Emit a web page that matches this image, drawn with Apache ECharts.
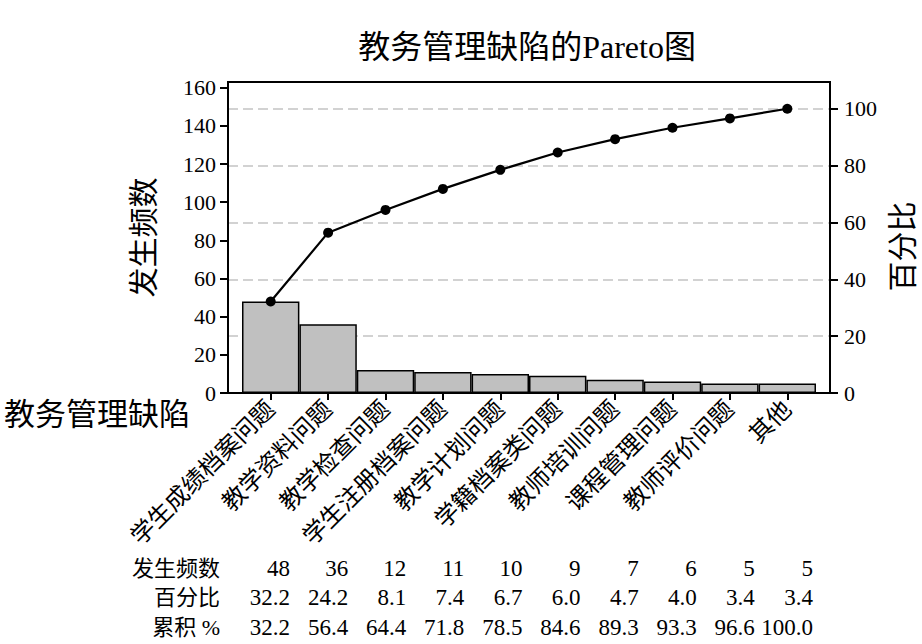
<!DOCTYPE html>
<html>
<head>
<meta charset="utf-8">
<script src="https://cdn.jsdelivr.net/npm/echarts@6/dist/echarts.min.js"></script>
<style>html,body{margin:0;padding:0;background:#fff}#c{width:922px;height:644px}</style>
</head>
<body>
<div id="c"></div>
<script>
const chartTitle = '教务管理缺陷的Pareto图';
const categoryTitle = '教务管理缺陷';
const categories = ['学生成绩档案问题','教学资料问题','教学检查问题','学生注册档案问题','教学计划问题','学籍档案类问题','教师培训问题','课程管理问题','教师评价问题','其他'];
const counts = [48, 36, 12, 11, 10, 9, 7, 6, 5, 5];
const percents = [32.2, 24.2, 8.1, 7.4, 6.7, 6.0, 4.7, 4.0, 3.4, 3.4];
const cumulative = [32.2, 56.4, 64.4, 71.8, 78.5, 84.6, 89.3, 93.3, 96.6, 100.0];
const rowNames = ['发生频数', '百分比', '累积 %'];
const countTicks = [0, 20, 40, 60, 80, 100, 120, 140, 160];
const pctTicks = [0, 20, 40, 60, 80, 100];
const countAxisMax = 163;
const totalCount = 149;

const pctAxisMax = countAxisMax / totalCount * 100;
const FONT = "'Liberation Serif','Noto Sans CJK SC',serif";
const black = '#000';

const chart = echarts.init(document.getElementById('c'), null, {renderer: 'svg'});

const rowData = [counts.map(String), percents.map(v => v.toFixed(1)), cumulative.map(v => v.toFixed(1))];
const axisBottomY = 393;
const rowOffsets = [175, 204, 234];

const tableAxes = rowData.map((d, i) => ({
  gridIndex: 2, type: 'category', data: d, position: 'bottom', offset: rowOffsets[i],
  axisLine: {show: false}, axisTick: {show: false}, splitLine: {show: false},
  axisLabel: {interval: 0, align: 'right', verticalAlign: 'middle', margin: 0,
    fontFamily: FONT, fontSize: 23, color: black}
}));

const rowNameGraphics = rowNames.map((t, i) => ({
  type: 'text', x: 220, y: axisBottomY + rowOffsets[i],
  style: {text: t, font: "22px " + FONT, fill: black,
    textAlign: 'right', textVerticalAlign: 'middle', align: 'right', verticalAlign: 'middle'}
}));

chart.setOption({
  animation: false,
  backgroundColor: '#fff',
  graphic: [
    {type: 'text', x: 527, y: 47, style: {text: chartTitle, font: "32px " + FONT, fill: black,
      textAlign: 'center', textVerticalAlign: 'middle', align: 'center', verticalAlign: 'middle'}},
    {type: 'text', x: 4, y: 414, style: {text: categoryTitle, font: "31px " + FONT, fill: black,
      textAlign: 'left', textVerticalAlign: 'middle', align: 'left', verticalAlign: 'middle'}},
    ...rowNameGraphics
  ],
  grid: [
    {left: 228, right: 92, top: 82, bottom: 251, show: true, borderColor: black, borderWidth: 2,
      backgroundColor: 'transparent', z: 5, containLabel: false, outerBoundsMode: 'none'},
    {left: 242, right: 106, top: 82, bottom: 251, containLabel: false, outerBoundsMode: 'none'},
    {left: 261, right: 80, top: 82, bottom: 251, containLabel: false, outerBoundsMode: 'none'}
  ],
  xAxis: [
    {gridIndex: 0, type: 'value', show: false},
    {gridIndex: 1, type: 'category', data: categories, position: 'bottom',
      axisLine: {show: true, lineStyle: {color: black, width: 2}},
      axisTick: {show: true, alignWithLabel: true, length: 7, lineStyle: {color: black, width: 2}},
      axisLabel: {interval: 0, rotate: 45, margin: 12, fontFamily: FONT, fontSize: 24, color: black},
      splitLine: {show: false}},
    ...tableAxes
  ],
  yAxis: [
    {gridIndex: 0, type: 'value', min: 0, max: pctAxisMax, interval: 20,
      axisLine: {show: false}, axisTick: {show: false}, axisLabel: {show: false},
      splitLine: {show: true, showMinLine: false, showMaxLine: false,
        lineStyle: {color: '#c4c4c4', width: 1.5, type: [10, 5]}}},
    {gridIndex: 1, type: 'value', position: 'left', offset: 14, min: 0, max: countAxisMax, interval: 20,
      axisLine: {show: true, lineStyle: {color: black, width: 2}},
      axisTick: {show: true, length: 8, customValues: countTicks, lineStyle: {color: black, width: 2}},
      axisLabel: {customValues: countTicks, margin: 12, fontFamily: FONT, fontSize: 22, color: black},
      splitLine: {show: false},
      name: '发生频数', nameLocation: 'middle', nameRotate: 90, nameGap: 70,
      nameTextStyle: {fontFamily: FONT, fontSize: 30, color: black}},
    {gridIndex: 1, type: 'value', position: 'right', offset: 14, min: 0, max: pctAxisMax, interval: 20,
      axisLine: {show: true, lineStyle: {color: black, width: 2}},
      axisTick: {show: true, length: 8, customValues: pctTicks, lineStyle: {color: black, width: 2}},
      axisLabel: {customValues: pctTicks, margin: 14, fontFamily: FONT, fontSize: 22, color: black},
      splitLine: {show: false},
      name: '百分比', nameLocation: 'middle', nameRotate: 90, nameGap: 55,
      nameTextStyle: {fontFamily: FONT, fontSize: 30, color: black, padding: [0, 18, 0, 0]}},
    {gridIndex: 2, type: 'value', show: false}
  ],
  series: [
    {type: 'bar', xAxisIndex: 1, yAxisIndex: 1, data: counts, barCategoryGap: 0,
      itemStyle: {color: '#c0c0c0', borderColor: black, borderWidth: 1.5}, z: 2},
    {type: 'line', xAxisIndex: 1, yAxisIndex: 2, data: cumulative,
      lineStyle: {color: black, width: 2.2}, itemStyle: {color: black},
      symbol: 'circle', symbolSize: 10, showSymbol: true, z: 6}
  ]
});
</script>
</body>
</html>
